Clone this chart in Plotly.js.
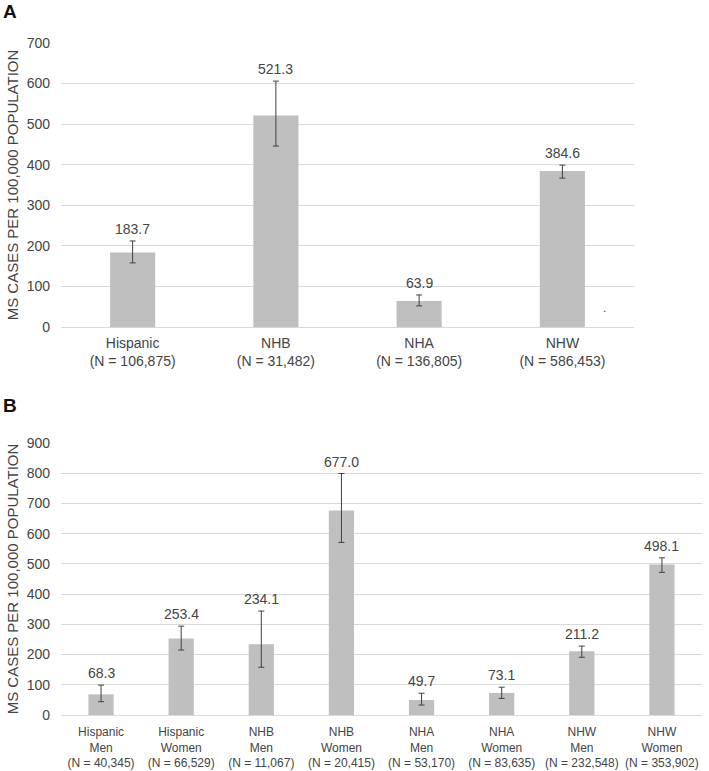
<!DOCTYPE html>
<html>
<head>
<meta charset="utf-8">
<script src="https://cdn.plot.ly/plotly-3.0.1.min.js"></script>
<style>html,body{margin:0;padding:0;background:#fff;}#chart{width:709px;height:771px;}</style>
</head>
<body>
<div id="chart"></div>
<script>
// Panel A: by race/ethnicity
const groupsA = ['Hispanic', 'NHB', 'NHA', 'NHW'];
const nA = ['106,875', '31,482', '136,805', '586,453'];
const valA = [183.7, 521.3, 63.9, 384.6];
const lowA = [158, 446, 52, 367];
const highA = [212, 606, 79, 399];

// Panel B: by race/ethnicity and sex
const groupsB = ['Hispanic', 'Hispanic', 'NHB', 'NHB', 'NHA', 'NHA', 'NHW', 'NHW'];
const sexB = ['Men', 'Women', 'Men', 'Women', 'Men', 'Women', 'Men', 'Women'];
const nB = ['40,345', '66,529', '11,067', '20,415', '53,170', '83,635', '232,548', '353,902'];
const valB = [68.3, 253.4, 234.1, 677.0, 49.7, 73.1, 211.2, 498.1];
const lowB = [44, 215, 158, 571, 33, 55, 191, 472];
const highB = [99, 294, 344, 799, 72, 92, 228, 520];

const yTitle = 'MS CASES PER 100,000 POPULATION';

const catA = groupsA.map((g, i) => g + '<br>(N = ' + nA[i] + ')');
const catB = groupsB.map((g, i) => g + '<br>' + sexB[i] + '<br>(N = ' + nB[i] + ')');

const barColor = '#bfbfbf';
const textColor = '#444444';
const gridColor = '#d9d9d9';

const traceA = {
  type: 'bar', x: catA, y: valA, xaxis: 'x', yaxis: 'y',
  marker: {color: barColor},
  error_y: {type: 'data', symmetric: false,
    array: highA.map((h, i) => h - valA[i]),
    arrayminus: lowA.map((l, i) => valA[i] - l),
    color: '#404040', thickness: 1, width: 3},
  hoverinfo: 'none', showlegend: false
};
const traceB = {
  type: 'bar', x: catB, y: valB, xaxis: 'x2', yaxis: 'y2',
  marker: {color: barColor},
  error_y: {type: 'data', symmetric: false,
    array: highB.map((h, i) => h - valB[i]),
    arrayminus: lowB.map((l, i) => valB[i] - l),
    color: '#404040', thickness: 1, width: 3},
  hoverinfo: 'none', showlegend: false
};

const annotations = [];
catA.forEach((c, i) => annotations.push({
  x: c, y: highA[i], xref: 'x', yref: 'y', text: valA[i].toFixed(1),
  showarrow: false, yanchor: 'middle', yshift: 12,
  font: {family: 'Liberation Sans, Arial, sans-serif', size: 14, color: textColor}
}));
catB.forEach((c, i) => annotations.push({
  x: c, y: highB[i], xref: 'x2', yref: 'y2', text: valB[i].toFixed(1),
  showarrow: false, yanchor: 'middle', yshift: 12,
  font: {family: 'Liberation Sans, Arial, sans-serif', size: 14, color: textColor}
}));
annotations.push({x: 10, y: 771 - 12, xref: 'paper', yref: 'paper', text: '<b>A</b>',
  showarrow: false, xanchor: 'center', yanchor: 'middle',
  font: {family: 'Liberation Sans, Arial, sans-serif', size: 19, color: '#111'}});
annotations.push({x: 10, y: 771 - 405, xref: 'paper', yref: 'paper', text: '<b>B</b>',
  showarrow: false, xanchor: 'center', yanchor: 'middle',
  font: {family: 'Liberation Sans, Arial, sans-serif', size: 19, color: '#111'}});
annotations.push({x: 604, y: 771 - 308, xref: 'paper', yref: 'paper', text: '.',
  showarrow: false, xanchor: 'center', yanchor: 'middle',
  font: {family: 'Liberation Sans, Arial, sans-serif', size: 12, color: '#444'}});

// convert pixel-based paper positions for the corner labels
annotations.forEach(a => {
  if (a.xref === 'paper') { a.x = a.x / 709; a.y = a.y / 771; }
});

const font = {family: 'Liberation Sans, Arial, sans-serif', size: 14, color: textColor};

const layout = {
  width: 709, height: 771,
  margin: {l: 0, r: 0, t: 0, b: 0},
  paper_bgcolor: '#ffffff', plot_bgcolor: '#ffffff',
  font: font,
  bargap: 0.685,
  xaxis: {domain: [61/709, 634/709], anchor: 'y', type: 'category',
    showgrid: false, showline: false, zeroline: false, ticks: '',
    ticklabelstandoff: 6,
    tickfont: {size: 14, color: textColor}, fixedrange: true},
  yaxis: {domain: [1 - 327/771, 1 - 43/771], anchor: 'x', range: [0, 700],
    dtick: 100, showgrid: true, gridcolor: gridColor, gridwidth: 1,
    zeroline: true, zerolinecolor: gridColor, zerolinewidth: 1,
    showline: false, ticks: '', ticklabelstandoff: 10,
    tickfont: {size: 14, color: textColor},
    title: {text: yTitle, font: {size: 15, color: textColor}, standoff: 4}},
  xaxis2: {domain: [61/709, 702/709], anchor: 'y2', type: 'category',
    showgrid: false, showline: false, zeroline: false, ticks: '',
    ticklabelstandoff: 8,
    tickfont: {size: 12, color: textColor}, fixedrange: true},
  yaxis2: {domain: [1 - 715/771, 1 - 443/771], anchor: 'x2', range: [0, 900],
    dtick: 100, showgrid: true, gridcolor: gridColor, gridwidth: 1,
    zeroline: true, zerolinecolor: gridColor, zerolinewidth: 1,
    showline: false, ticks: '', ticklabelstandoff: 10,
    tickfont: {size: 14, color: textColor},
    title: {text: yTitle, font: {size: 15, color: textColor}, standoff: 4}},
  annotations: annotations
};

Plotly.newPlot('chart', [traceA, traceB], layout, {displayModeBar: false, staticPlot: true});
</script>
</body>
</html>
